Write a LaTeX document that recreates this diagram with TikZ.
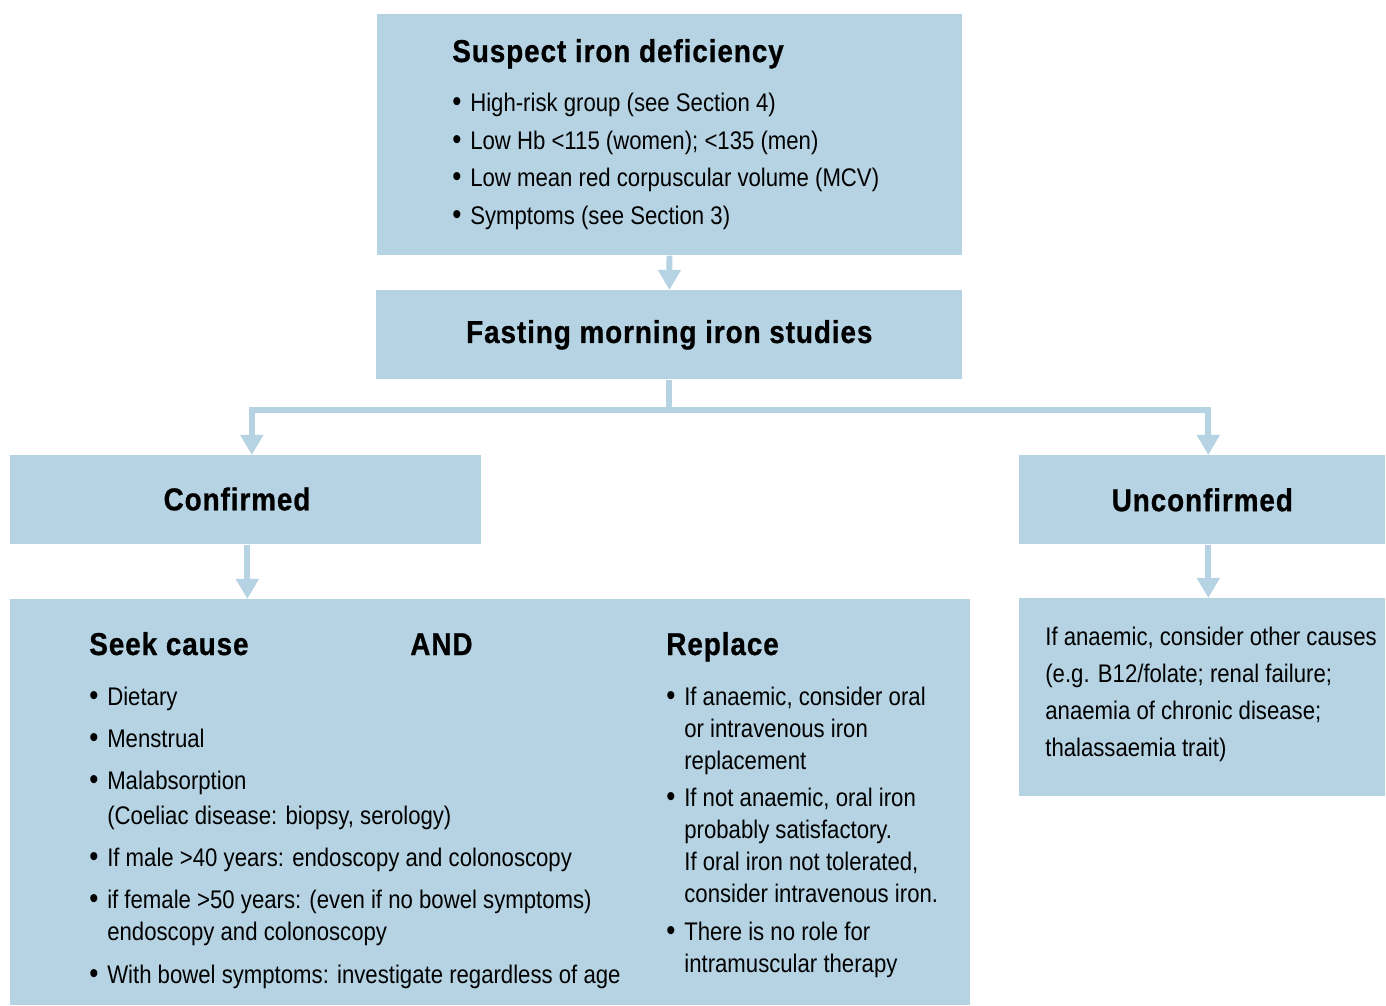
\documentclass[tikz,border=0pt]{standalone}
\usepackage{fontspec}
\setmainfont{Liberation Sans}[FakeStretch=0.87]
\newfontfamily\headfont{Liberation Sans Bold}[FakeStretch=0.88, LetterSpace=3, FakeBold=0.8]
\usetikzlibrary{positioning, arrows.meta}
\definecolor{panel}{HTML}{B5D3E3}
\newcommand{\bl}{\makebox[10.2pt][l]{\raisebox{-0.3pt}{\fontsize{17}{17}\selectfont\textbullet}}}

\begin{document}
\begin{tikzpicture}[
    x=0.02cm, y=-0.02cm,
    box/.style={fill=panel, draw=none, rectangle, inner sep=0, anchor=north west},
    head/.style={font=\fontsize{18}{21}\headfont},
    item/.style={font=\fontsize{14.5}{17}\selectfont, inner sep=0, anchor=base west},
    link/.style={draw=panel, line width=3.4pt, -{Triangle[width=12.5pt, length=11.5pt]}}
]
\useasboundingbox (0,0) rectangle (1386,1005);

% Boxes
\node[box, minimum width=11.7cm, minimum height=4.82cm] (suspect) at (377,14) {};
\node[box, head, minimum width=11.72cm, minimum height=1.78cm] (fasting) at (376,290) {Fasting morning iron studies};
\node[box, minimum width=9.42cm, minimum height=1.78cm] (confirmed) at (10,455) {};
\node[box, head, minimum width=7.32cm, minimum height=1.78cm] (unconfirmed) at (1019,455) {Unconfirmed};
\node[box, minimum width=19.2cm, minimum height=8.12cm] (cause) at (10,599) {};
\node[box, minimum width=7.32cm, minimum height=3.96cm] (other) at (1019,598) {};
\node[head, inner sep=0] (confirmedtext) at (237,499) {Confirmed};

% Arrows
\draw[link] (suspect) -- (fasting);
\draw[link] (fasting.south) -- ++(0,30) -| ([xshift=0.12cm]confirmed.north);
\draw[link] (fasting.south) -- ++(0,30) -| ([xshift=0.12cm]unconfirmed.north);
\draw[link] ([xshift=0.03cm]confirmed.south) -- ([xshift=0.03cm]confirmed.south |- cause.north);
\draw[link] ([xshift=0.12cm]unconfirmed.south) -- ([xshift=0.12cm]unconfirmed.south |- other.north);

% Suspect box text
\node[item, head] (suspecthead) at (452,62) {Suspect iron deficiency};
\foreach \y/\t [count=\i] in {111/{High-risk group (see Section 4)},
    149/{Low Hb <115 (women); <135 (men)},
    186/{Low mean red corpuscular volume (MCV)},
    224/{Symptoms (see Section 3)}}
  \node[item] (sus\i) at (452,\y) {\bl\t};

% Headings in the lower box
\node[item, head] (seek) at (89,655) {Seek cause};
\node[item, head] (and) at (410,655) {AND};
\node[item, head] (replace) at (666,655) {Replace};

% Seek cause list
\foreach \x/\y/\t [count=\i] in {89/705/{\bl Dietary},
    89/747/{\bl Menstrual},
    89/789/{\bl Malabsorption},
    107/824/{(Coeliac disease: biopsy, serology)},
    89/866/{\bl If male >40 years: endoscopy and colonoscopy},
    89/908/{\bl if female >50 years: (even if no bowel symptoms)},
    107/940/{endoscopy and colonoscopy},
    89/983/{\bl With bowel symptoms: investigate regardless of age}}
  \node[item] (seek\i) at (\x,\y) {\t};

% Replace list
\foreach \x/\y/\t [count=\i] in {666/705/{\bl If anaemic, consider oral},
    684/737/{or intravenous iron},
    684/769/{replacement},
    666/806/{\bl If not anaemic, oral iron},
    684/838/{probably satisfactory.},
    684/870/{If oral iron not tolerated,},
    684/902/{consider intravenous iron.},
    666/940/{\bl There is no role for},
    684/972/{intramuscular therapy}}
  \node[item] (rep\i) at (\x,\y) {\t};

% Unconfirmed text
\foreach \y/\t [count=\i] in {645/{If anaemic, consider other causes},
    682/{(e.g. B12/folate; renal failure;},
    719/{anaemia of chronic disease;},
    756/{thalassaemia trait)}}
  \node[item] (oth\i) at (1045,\y) {\t};

\end{tikzpicture}
\end{document}
